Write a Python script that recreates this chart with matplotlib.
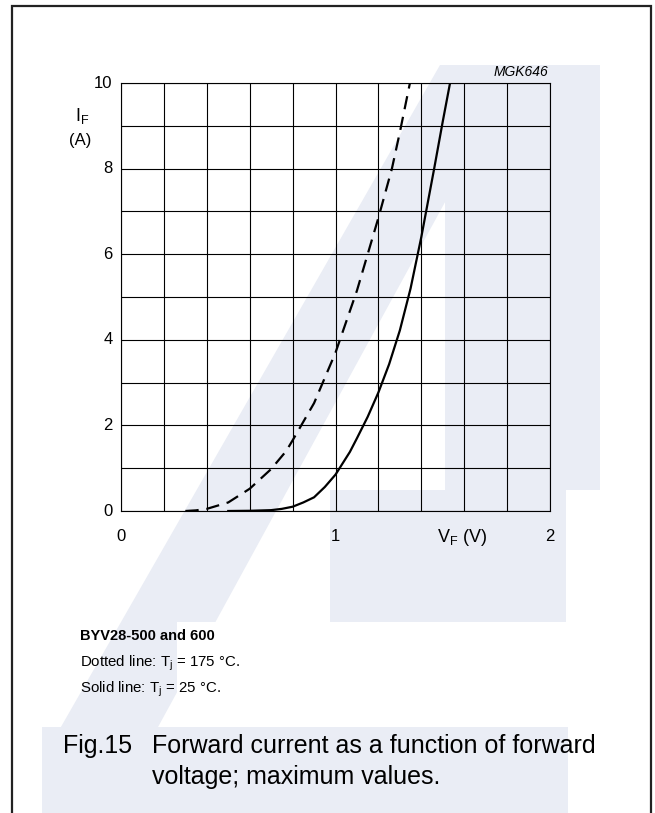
import matplotlib
matplotlib.use("Agg")
import matplotlib.pyplot as plt
from matplotlib.patches import Polygon, Rectangle
import numpy as np

plt.rcParams['font.family'] = ['Liberation Sans', 'DejaVu Sans']

# ---- data ----
vf_175 = [0.30, 0.35, 0.40, 0.50, 0.60, 0.70, 0.77, 0.80, 0.90, 1.00, 1.10, 1.20, 1.263, 1.30, 1.347]
if_175 = [0.00, 0.015, 0.05, 0.20, 0.52, 0.98, 1.40, 1.65, 2.52, 3.70, 5.15, 6.85, 8.00, 8.85, 10.0]
vf_25 = [0.50, 0.60, 0.70, 0.75, 0.80, 0.85, 0.90, 0.95, 1.00, 1.067, 1.10, 1.15, 1.20, 1.25, 1.30, 1.35, 1.40, 1.46, 1.50, 1.534]
if_25 = [0.00, 0.005, 0.02, 0.05, 0.10, 0.20, 0.32, 0.56, 0.85, 1.38, 1.70, 2.20, 2.77, 3.43, 4.22, 5.20, 6.40, 8.00, 9.10, 10.0]
x_ticks = [0, 1, 2]
y_ticks = [0, 2, 4, 6, 8, 10]

W, H = 655, 813
fig = plt.figure(figsize=(W / 100, H / 100), dpi=100)
fig.patch.set_facecolor('white')

def fx(px):
    return px / W

def fy(py):
    return 1 - py / H

wm = '#eaedf5'
# watermark (decoration)
for poly in [
    [(445, 65), (600, 65), (600, 490), (445, 490)],
    [(445, 480), (566, 480), (566, 622), (445, 622)],
    [(440, 65), (520, 65), (140, 760), (42, 760)],
    [(330, 490), (566, 490), (566, 622), (330, 622)],
    [(42, 727), (568, 727), (568, 813), (42, 813)],
]:
    fig.patches.append(Polygon([(fx(a), fy(b)) for a, b in poly], closed=True,
                               transform=fig.transFigure, facecolor=wm,
                               edgecolor='none', zorder=-2))
fig.patches.append(Rectangle((fx(177), fy(727)), fx(450) - fx(177), fy(622) - fy(727),
                             transform=fig.transFigure, facecolor='white',
                             edgecolor='none', zorder=-1))

# border (open at bottom)
bx0, bx1, by0 = 11.5, 650.5, 6.5
fig.add_artist(plt.Line2D([fx(bx0), fx(bx0), fx(bx1), fx(bx1)],
                          [fy(H + 2), fy(by0), fy(by0), fy(H + 2)],
                          transform=fig.transFigure, color='#222222', lw=1.6,
                          solid_joinstyle='miter'))

ax_l, ax_r, ax_t, ax_b = 121, 550, 83, 511
ax = fig.add_axes([fx(ax_l), fy(ax_b), fx(ax_r) - fx(ax_l), fy(ax_t) - fy(ax_b)])
ax.set_zorder(5)
ax.patch.set_alpha(0)
ax.set_xlim(0, 2)
ax.set_ylim(0, 10)
ax.set_xticks(np.arange(0, 2.01, 0.2))
ax.set_yticks(np.arange(0, 10.01, 1))
ax.grid(True, color='black', lw=0.8)
ax.tick_params(length=0, labelbottom=False, labelleft=False)
for s in ax.spines.values():
    s.set_linewidth(0.8)

ax.plot(vf_175, if_175, color='black', lw=1.6, dashes=(6, 3.5))
ax.plot(vf_25, if_25, color='black', lw=1.6)

# tick labels
for v in y_ticks:
    ax.text(-0.04, v, str(v), ha='right', va='center', fontsize=12, clip_on=False)
for v in x_ticks:
    ax.text(v, -0.42, str(v), ha='center', va='top', fontsize=12, clip_on=False)

fig.text(fx(548), fy(72), 'MGK646', ha='right', va='center', fontsize=10, style='italic')
fig.text(fx(75), fy(121), r'I$_\mathregular{F}$', ha='left', va='baseline', fontsize=13)
fig.text(fx(69), fy(140), '(A)', ha='left', va='center', fontsize=12)
fig.text(fx(437), fy(542), r'V$_\mathregular{F}$ (V)', ha='left', va='baseline', fontsize=13)

fig.text(fx(80), fy(640), 'BYV28-500 and 600', ha='left', va='baseline', fontsize=10.5, weight='bold')
fig.text(fx(80), fy(666), r'Dotted line: T$_\mathregular{j}$ = 175 °C.', ha='left', va='baseline', fontsize=10.8)
fig.text(fx(80), fy(692), r'Solid line: T$_\mathregular{j}$ = 25 °C.', ha='left', va='baseline', fontsize=10.8)

fig.text(fx(63), fy(753), 'Fig.15', ha='left', va='baseline', fontsize=18)
fig.text(fx(152), fy(753), 'Forward current as a function of forward', ha='left', va='baseline', fontsize=18)
fig.text(fx(152), fy(784), 'voltage; maximum values.', ha='left', va='baseline', fontsize=18)

fig.savefig('out.png', dpi=100)
